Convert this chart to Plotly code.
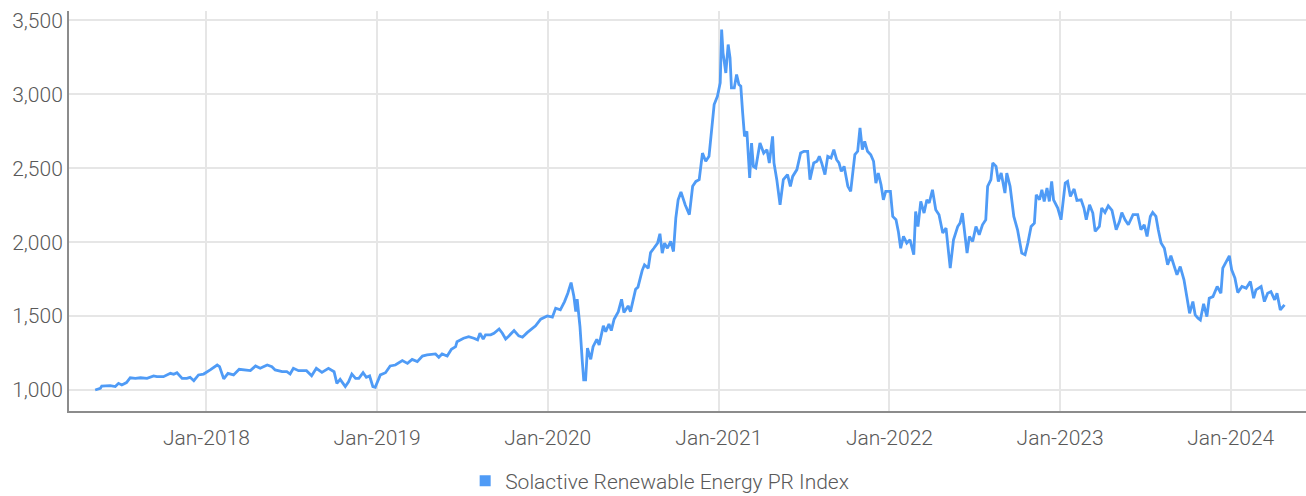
import plotly.graph_objects as go

SERIES_NAME = "Solactive Renewable Energy PR Index"

dates = [
    "2017-05-08", "2017-05-19", "2017-05-22", "2017-06-09", "2017-06-20", "2017-06-27", "2017-07-04",
    "2017-07-14", "2017-07-22", "2017-08-02", "2017-08-13", "2017-08-27", "2017-09-10", "2017-09-17",
    "2017-10-01", "2017-10-16", "2017-10-23", "2017-10-30", "2017-11-10", "2017-11-20", "2017-11-27",
    "2017-12-05", "2017-12-15", "2017-12-26",
    "2018-01-09", "2018-01-24", "2018-01-29", "2018-02-07", "2018-02-16", "2018-02-28", "2018-03-12",
    "2018-03-26", "2018-04-05", "2018-04-16", "2018-04-26", "2018-05-11", "2018-05-21", "2018-05-28",
    "2018-06-12", "2018-06-22", "2018-06-29", "2018-07-06", "2018-07-17", "2018-07-27", "2018-08-03",
    "2018-08-14", "2018-08-24", "2018-09-05", "2018-09-19", "2018-10-01", "2018-10-07", "2018-10-14",
    "2018-10-25", "2018-11-01", "2018-11-08", "2018-11-16", "2018-11-23", "2018-12-02", "2018-12-09",
    "2018-12-16", "2018-12-23", "2018-12-28",
    "2019-01-08", "2019-01-19", "2019-01-29", "2019-02-09", "2019-02-24", "2019-03-07", "2019-03-17",
    "2019-03-28", "2019-04-08", "2019-04-18", "2019-05-06", "2019-05-13", "2019-05-20", "2019-05-31",
    "2019-06-09", "2019-06-18", "2019-06-21", "2019-07-05", "2019-07-16", "2019-07-27", "2019-08-04",
    "2019-08-09", "2019-08-16", "2019-08-21", "2019-09-01", "2019-09-08", "2019-09-19", "2019-09-26",
    "2019-10-03", "2019-10-10", "2019-10-21", "2019-10-31", "2019-11-08", "2019-11-18", "2019-11-27",
    "2019-12-06", "2019-12-17", "2019-12-27", "2019-12-31",
    "2020-01-11", "2020-01-18", "2020-01-28", "2020-02-06", "2020-02-13", "2020-02-20", "2020-02-26",
    "2020-03-01", "2020-03-04", "2020-03-10", "2020-03-15", "2020-03-18", "2020-03-22", "2020-03-26",
    "2020-04-02", "2020-04-07", "2020-04-15", "2020-04-20", "2020-04-29", "2020-05-04", "2020-05-11",
    "2020-05-16", "2020-05-22", "2020-05-31", "2020-06-07", "2020-06-12", "2020-06-21", "2020-06-26",
    "2020-07-07", "2020-07-12", "2020-07-21", "2020-07-26", "2020-08-03", "2020-08-08", "2020-08-15",
    "2020-08-23", "2020-08-28", "2020-09-02", "2020-09-07", "2020-09-13", "2020-09-20", "2020-09-26",
    "2020-10-01", "2020-10-06", "2020-10-12", "2020-10-21", "2020-10-30", "2020-11-06", "2020-11-13",
    "2020-11-20", "2020-11-27", "2020-12-04", "2020-12-11", "2020-12-16", "2020-12-22", "2020-12-29",
    "2021-01-04", "2021-01-07", "2021-01-10", "2021-01-16", "2021-01-21", "2021-01-25", "2021-01-28",
    "2021-02-03", "2021-02-08", "2021-02-13", "2021-02-17", "2021-02-21", "2021-02-25", "2021-03-02",
    "2021-03-04", "2021-03-08", "2021-03-12", "2021-03-16", "2021-03-21", "2021-03-30", "2021-04-07",
    "2021-04-14", "2021-04-19", "2021-04-26", "2021-04-29", "2021-05-05", "2021-05-12", "2021-05-19",
    "2021-05-28", "2021-06-03", "2021-06-08", "2021-06-17", "2021-06-25", "2021-07-02", "2021-07-10",
    "2021-07-15", "2021-07-23", "2021-07-30", "2021-08-04", "2021-08-09", "2021-08-16", "2021-08-22",
    "2021-08-29", "2021-09-04", "2021-09-10", "2021-09-15", "2021-09-20", "2021-09-26", "2021-10-04",
    "2021-10-10", "2021-10-19", "2021-10-25", "2021-10-30", "2021-11-04", "2021-11-09", "2021-11-15",
    "2021-11-22", "2021-11-28", "2021-12-03", "2021-12-08", "2021-12-14", "2021-12-19", "2021-12-24",
    "2022-01-03", "2022-01-08", "2022-01-15", "2022-01-20", "2022-01-25", "2022-01-31", "2022-02-07",
    "2022-02-14", "2022-02-22", "2022-02-26", "2022-03-03", "2022-03-09", "2022-03-16", "2022-03-22",
    "2022-03-27", "2022-04-03", "2022-04-10", "2022-04-17", "2022-04-25", "2022-05-02", "2022-05-11",
    "2022-05-18", "2022-05-27", "2022-06-01", "2022-06-06", "2022-06-16", "2022-06-21", "2022-06-28",
    "2022-07-05", "2022-07-12", "2022-07-19", "2022-07-26", "2022-07-30", "2022-08-06", "2022-08-10",
    "2022-08-17", "2022-08-22", "2022-08-28", "2022-09-05", "2022-09-09", "2022-09-16", "2022-09-24",
    "2022-10-02", "2022-10-11", "2022-10-18", "2022-10-24", "2022-10-31", "2022-11-07", "2022-11-11",
    "2022-11-18", "2022-11-23", "2022-11-28", "2022-12-04", "2022-12-09", "2022-12-14", "2022-12-18",
    "2022-12-27",
    "2023-01-03", "2023-01-12", "2023-01-17", "2023-01-23", "2023-01-31", "2023-02-06", "2023-02-15",
    "2023-02-21", "2023-02-26", "2023-03-05", "2023-03-12", "2023-03-17", "2023-03-26", "2023-03-31",
    "2023-04-07", "2023-04-14", "2023-04-22", "2023-05-01", "2023-05-08", "2023-05-13", "2023-05-20",
    "2023-05-27", "2023-06-06", "2023-06-16", "2023-06-23", "2023-06-30", "2023-07-06", "2023-07-13",
    "2023-07-18", "2023-07-25", "2023-07-30", "2023-08-05", "2023-08-12", "2023-08-19", "2023-08-26",
    "2023-09-02", "2023-09-08", "2023-09-15", "2023-09-23", "2023-09-29", "2023-10-05", "2023-10-12",
    "2023-10-17", "2023-10-23", "2023-10-28", "2023-11-04", "2023-11-11", "2023-11-16", "2023-11-24",
    "2023-12-03", "2023-12-11", "2023-12-15", "2023-12-24", "2023-12-29",
    "2024-01-03", "2024-01-10", "2024-01-16", "2024-01-25", "2024-02-03", "2024-02-12", "2024-02-19",
    "2024-02-24", "2024-03-06", "2024-03-13", "2024-03-20", "2024-03-27", "2024-04-04", "2024-04-09",
    "2024-04-16", "2024-04-25",
]

values = [
    1000, 1011, 1027, 1029, 1023, 1045, 1034,
    1050, 1083, 1079, 1083, 1079, 1095, 1090,
    1090, 1113, 1106, 1117, 1079, 1079, 1086,
    1063, 1102, 1108,
    1136, 1169, 1158, 1075, 1113, 1102, 1140,
    1136, 1131, 1163, 1147, 1169, 1158, 1136,
    1124, 1124, 1108, 1147, 1131, 1131, 1131,
    1097, 1147, 1119, 1147, 1124, 1045, 1072,
    1023, 1056, 1108, 1079, 1079, 1117, 1086,
    1095, 1023, 1018,
    1102, 1117, 1163, 1169, 1199, 1180, 1207,
    1192, 1230, 1237, 1244, 1222, 1244, 1230,
    1276, 1293, 1327, 1350, 1361, 1350, 1339,
    1384, 1345, 1373, 1373, 1384, 1413, 1384,
    1345, 1366, 1402, 1366, 1357, 1388, 1411,
    1434, 1479, 1497, 1501,
    1493, 1553, 1542, 1598, 1655, 1727, 1632,
    1530, 1614, 1429, 1192, 1068, 1068, 1283,
    1208, 1293, 1343, 1305, 1434, 1395, 1447,
    1402, 1479, 1530, 1614, 1524, 1569, 1530,
    1682, 1696, 1808, 1847, 1824, 1930, 1959,
    1994, 2057, 1926, 1994, 1959, 2005, 1937,
    2163, 2287, 2340, 2253, 2186, 2378, 2411,
    2423, 2603, 2547, 2581, 2761, 2931, 2987,
    3078, 3439, 3281, 3145, 3337, 3247, 3044,
    3044, 3134, 3066, 3055, 2875, 2716, 2750,
    2648, 2434, 2671, 2512, 2502, 2671, 2603,
    2626, 2536, 2716, 2536, 2423, 2253, 2423,
    2457, 2378, 2445, 2491, 2603, 2615, 2615,
    2423, 2536, 2547, 2581, 2536, 2457, 2581,
    2570, 2626, 2558, 2536, 2479, 2513, 2378,
    2344, 2592, 2615, 2773, 2626, 2682, 2615,
    2592, 2547, 2400, 2468, 2389, 2287, 2344,
    2344, 2174, 2152, 2073, 1959, 2039, 1994,
    2016, 1915, 2208, 2106, 2276, 2197, 2287,
    2265, 2355, 2219, 2186, 2062, 2095, 1824,
    2016, 2106, 2129, 2197, 1926, 2039, 2005,
    2106, 2050, 2118, 2152, 2378, 2423, 2536,
    2513, 2411, 2468, 2332, 2468, 2378, 2174,
    2084, 1926, 1915, 1994, 2106, 2129, 2321,
    2287, 2355, 2276, 2366, 2276, 2411, 2287,
    2231,
    2152, 2400, 2411, 2310, 2360, 2283, 2287,
    2231, 2152, 2253, 2197, 2073, 2106, 2231,
    2201, 2246, 2215, 2084, 2140, 2201, 2152,
    2118, 2186, 2186, 2084, 2118, 2039, 2174,
    2201, 2174, 2084, 1994, 1959, 1847, 1908,
    1835, 1779, 1835, 1745, 1632, 1519, 1598,
    1508, 1486, 1474, 1583, 1497, 1621, 1632,
    1700, 1655, 1824, 1881, 1908,
    1813, 1757, 1659, 1700, 1689, 1734, 1621,
    1677, 1700, 1598, 1655, 1666, 1610, 1655,
    1542, 1576,
]

y_ticks = [1000, 1500, 2000, 2500, 3000, 3500]
x_range = ["2017-03-13", "2024-06-10"]
y_range = [858, 3564]

LINE_COLOR = "#4f9bf6"
TEXT_COLOR = "#595959"
FONT = "Roboto, 'Liberation Sans', sans-serif"
FONT_SIZE = 21

fig = go.Figure()
fig.add_trace(go.Scatter(
    x=dates, y=values, mode="lines", name=SERIES_NAME,
    line=dict(color=LINE_COLOR, width=2.8), showlegend=False,
))
# legend entry with a square marker
fig.add_trace(go.Scatter(
    x=[None], y=[None], mode="markers", name=SERIES_NAME,
    marker=dict(symbol="square", size=11, color=LINE_COLOR), showlegend=True,
))

fig.update_layout(
    width=1306, height=496,
    margin=dict(l=69, r=0, t=11, b=85, autoexpand=False),
    paper_bgcolor="white", plot_bgcolor="white",
    font=dict(family=FONT, size=FONT_SIZE, color=TEXT_COLOR, weight=300),
    legend=dict(
        orientation="h", x=0.4775, xanchor="center", y=-0.175, yanchor="middle",
        font=dict(family=FONT, size=FONT_SIZE, color=TEXT_COLOR, weight=300),
        itemwidth=30,
    ),
    xaxis=dict(
        type="date", range=x_range, automargin=False,
        tick0="2018-01-01", dtick="M12", tickformat="%b-%Y",
        showgrid=True, gridcolor="#e6e6e6", gridwidth=2,
        showline=True, linecolor="#8c8c8c", linewidth=2,
        ticks="", zeroline=False, ticklabelstandoff=7,
        tickfont=dict(family=FONT, size=FONT_SIZE, color=TEXT_COLOR, weight=300),
    ),
    yaxis=dict(
        range=y_range, tickvals=y_ticks, tickformat=",d", automargin=False,
        showgrid=True, gridcolor="#e6e6e6", gridwidth=2,
        showline=True, linecolor="#8c8c8c", linewidth=2,
        ticks="", zeroline=False,
        tickfont=dict(family=FONT, size=FONT_SIZE, color=TEXT_COLOR, weight=300),
    ),
)

fig.write_html(
    "out.html",
    config={"displayModeBar": False},
    post_script="document.body.style.margin='0';",
)
